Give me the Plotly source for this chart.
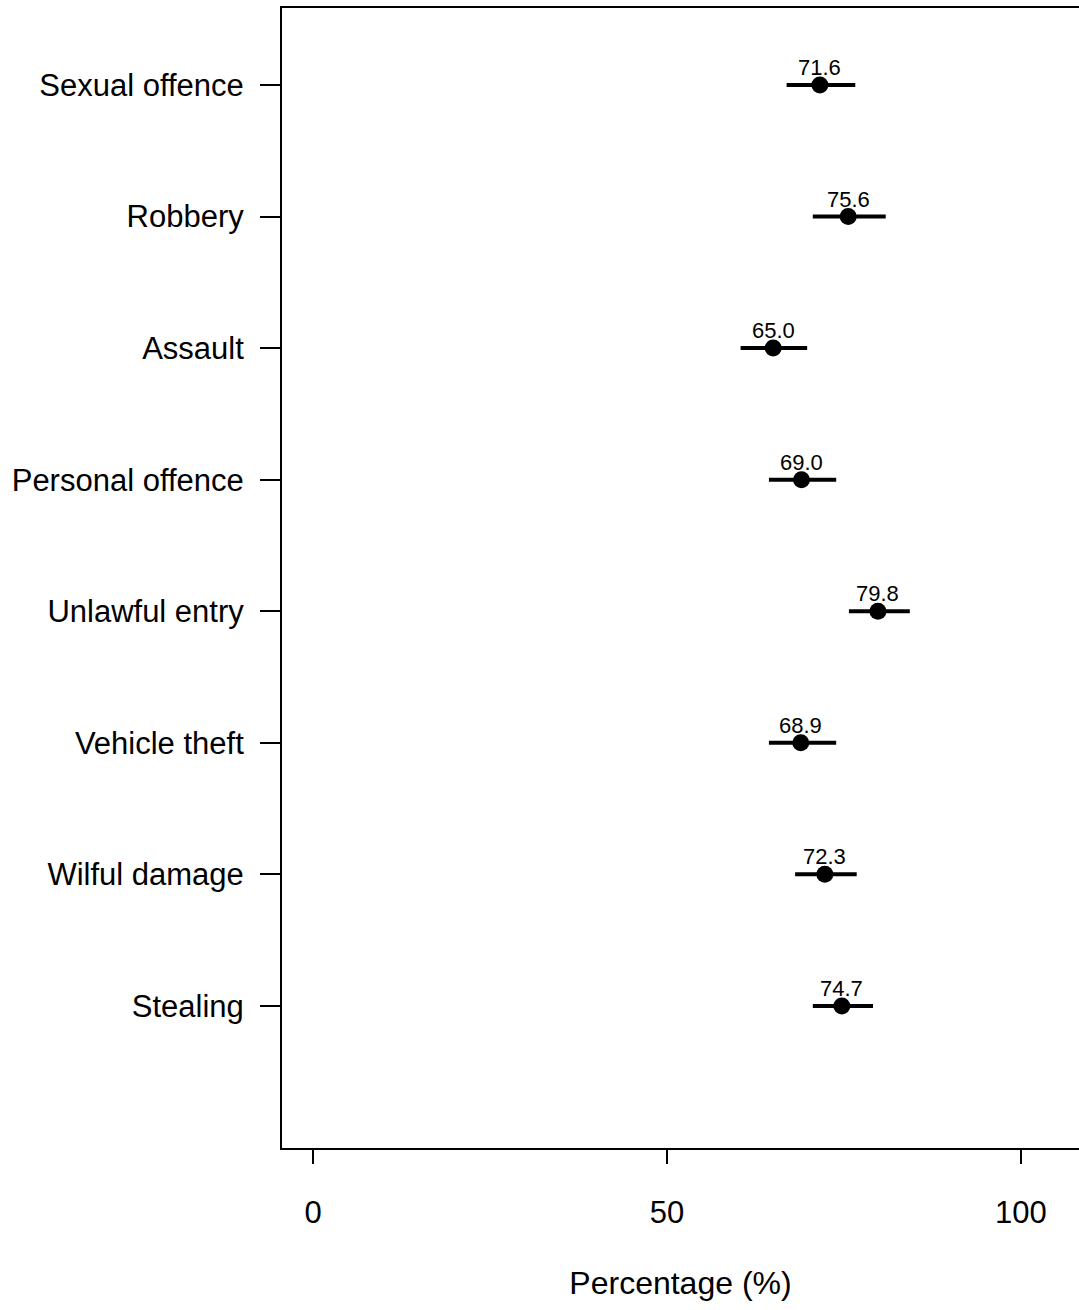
import plotly.graph_objects as go

# Offence categories (top to bottom) with point estimates and 95% CI bounds (%)
categories = ["Sexual offence", "Robbery", "Assault", "Personal offence",
              "Unlawful entry", "Vehicle theft", "Wilful damage", "Stealing"]
estimates = [71.6, 75.6, 65.0, 69.0, 79.8, 68.9, 72.3, 74.7]
ci_low = [66.9, 70.6, 60.4, 64.4, 75.7, 64.4, 68.1, 70.6]
ci_high = [76.6, 80.9, 69.8, 73.9, 84.3, 73.9, 76.8, 79.1]
x_ticks = [0, 50, 100]

positions = list(range(len(categories)))
err_plus = [h - e for h, e in zip(ci_high, estimates)]
err_minus = [e - l for e, l in zip(estimates, ci_low)]
labels = [f"{v:.1f}" for v in estimates]

FONT = "Liberation Sans, Arial, sans-serif"

fig = go.Figure()
fig.add_trace(go.Scatter(
    x=estimates,
    y=positions,
    mode="markers",
    marker=dict(size=17, color="black"),
    error_x=dict(type="data", symmetric=False, array=err_plus,
                 arrayminus=err_minus, thickness=4, width=0, color="black"),
    showlegend=False,
    cliponaxis=False,
))

# value labels sitting just above each point
for x, y, t in zip(estimates, positions, labels):
    fig.add_annotation(
        x=x, y=y, text=t, showarrow=False,
        xanchor="center", yanchor="bottom", yshift=3,
        font=dict(family=FONT, size=22, color="black"),
    )

fig.update_layout(
    width=1079,
    height=1310,
    margin=dict(l=282, r=0, t=8, b=162),
    paper_bgcolor="white",
    plot_bgcolor="white",
    font=dict(family=FONT, size=31, color="black"),
    xaxis=dict(
        range=[-4.38, 108.2],
        tickvals=x_ticks,
        ticks="outside",
        ticklen=14,
        tickwidth=2,
        tickcolor="black",
        ticklabelstandoff=22,
        showgrid=False,
        zeroline=False,
        showline=True,
        linewidth=2,
        linecolor="black",
        mirror=True,
        title=dict(text="Percentage (%)", font=dict(size=32), standoff=42),
    ),
    yaxis=dict(
        range=[8.08, -0.585],
        tickvals=positions,
        ticktext=categories,
        ticks="outside",
        ticklen=20,
        tickwidth=2,
        tickcolor="black",
        ticklabelstandoff=10,
        showgrid=False,
        zeroline=False,
        showline=True,
        linewidth=2,
        linecolor="black",
    ),
)

fig.write_html("out.html")
